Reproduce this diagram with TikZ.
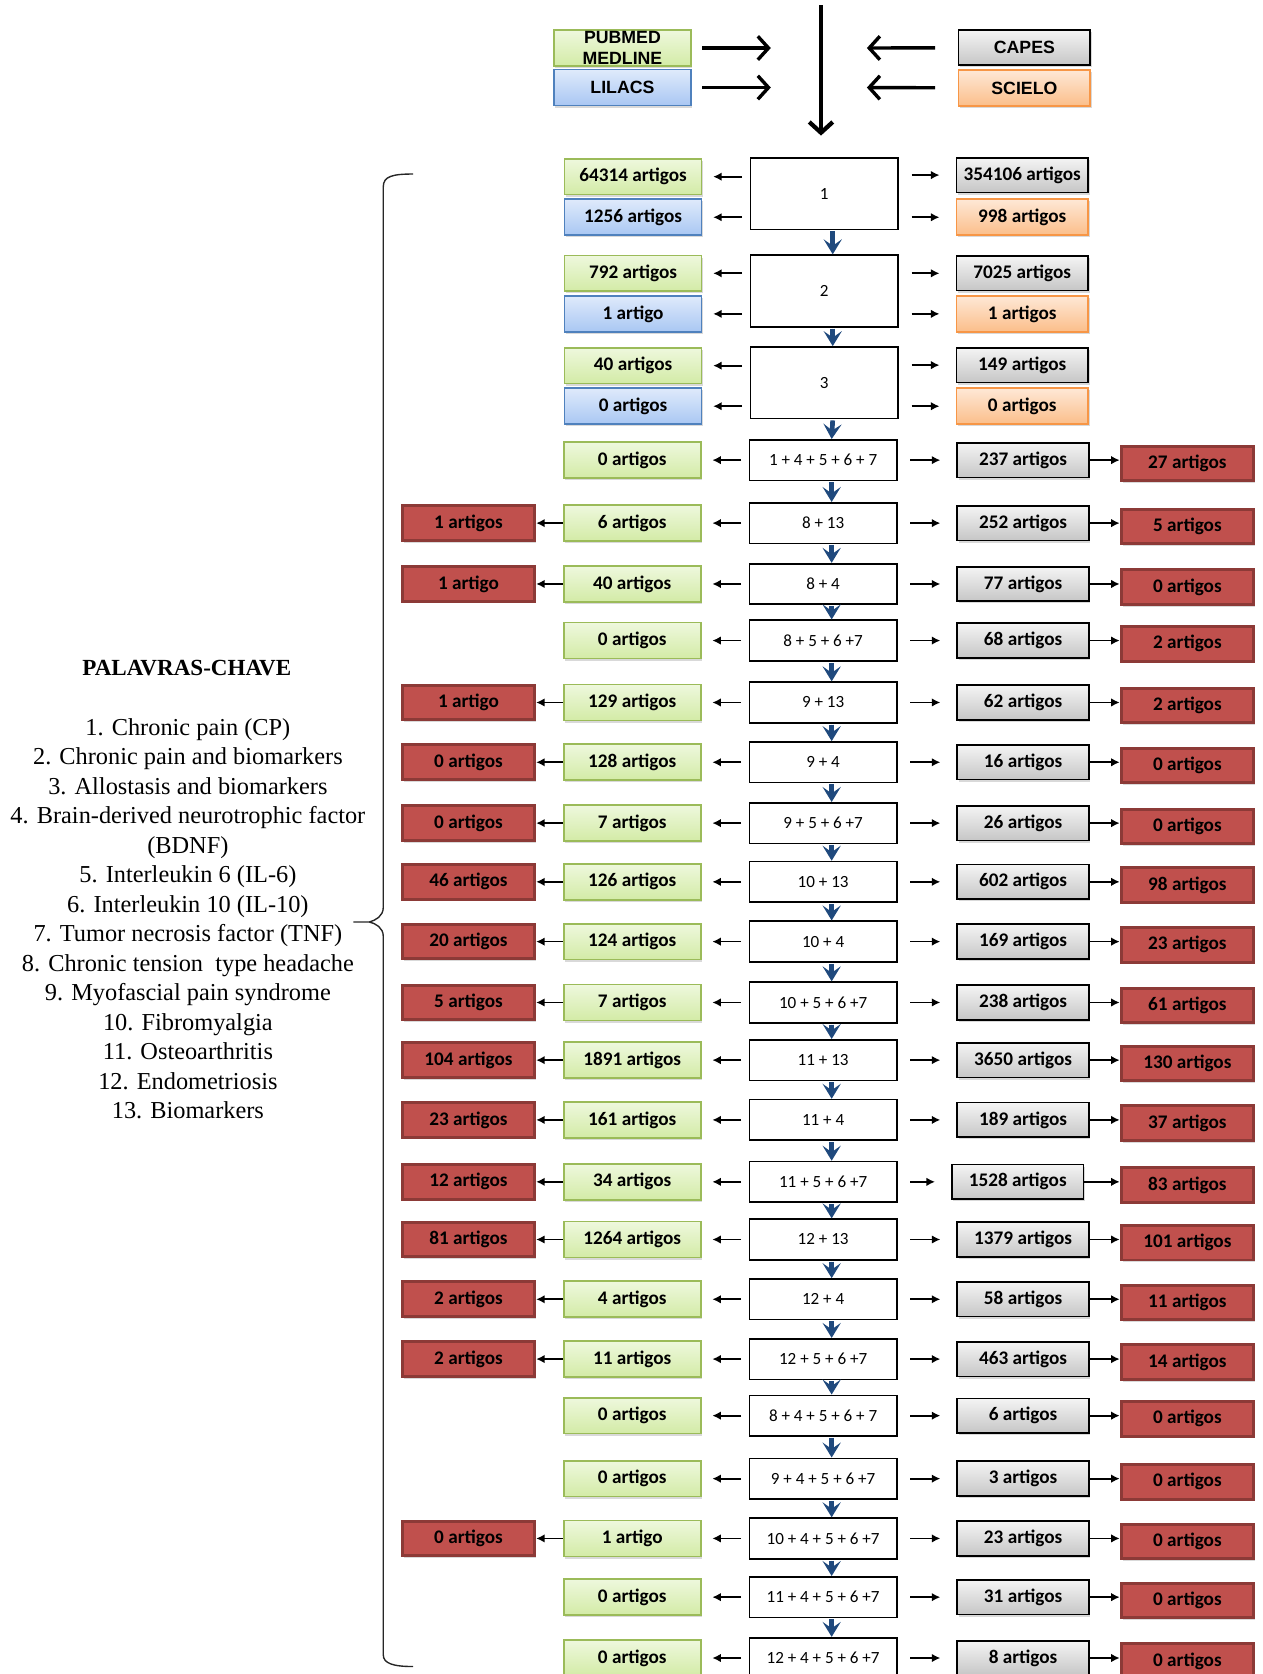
\documentclass[tikz,border=0pt]{standalone}
\usepackage{fontspec}
\setmainfont{Liberation Serif}
\newfontfamily\carl{Carlito}
\newfontfamily\arsans{Liberation Sans}
\usepackage{tikz}
\usetikzlibrary{positioning, arrows.meta, shadows}
\definecolor{cGt}{RGB}{238,248,221}
\definecolor{cGb}{RGB}{211,235,166}
\definecolor{cGd}{RGB}{155,187,89}
\definecolor{cBt}{RGB}{223,234,251}
\definecolor{cBb}{RGB}{169,199,243}
\definecolor{cBd}{RGB}{79,129,189}
\definecolor{cKt}{RGB}{244,244,244}
\definecolor{cKb}{RGB}{198,198,198}
\definecolor{cOt}{RGB}{254,232,214}
\definecolor{cOb}{RGB}{251,190,138}
\definecolor{cOd}{RGB}{247,150,70}
\definecolor{cR}{RGB}{192,80,77}
\definecolor{cRd}{RGB}{140,58,55}
\definecolor{cV}{RGB}{31,73,125}

\begin{document}
\begin{tikzpicture}[x=0.5pt, y=-0.5pt,
    boxx/.style={rectangle, inner sep=0pt, line width=0.8pt, font=\carl\bfseries\fontsize{9}{10}\selectfont,
      drop shadow={opacity=0.3, shadow xshift=0.7pt, shadow yshift=-1pt}},
    pm/.style={boxx, top color=cGt, bottom color=cGb, draw=cGd, minimum width=64.2pt, minimum height=16.8pt},
    li/.style={boxx, top color=cBt, bottom color=cBb, draw=cBd, minimum width=64.2pt, minimum height=16.8pt},
    cp/.style={boxx, top color=cKt, bottom color=cKb, draw=black, minimum width=61.7pt, minimum height=16.2pt},
    sc/.style={boxx, top color=cOt, bottom color=cOb, draw=cOd, minimum width=61.7pt, minimum height=16.8pt},
    rej/.style={boxx, fill=cR, draw=cRd, line width=1.4pt, minimum width=62pt, minimum height=16.2pt},
    dbx/.style={font=\arsans\bfseries\fontsize{8.3}{9.5}\selectfont, align=center},
    qry/.style={rectangle, draw, fill=white, line width=0.8pt, minimum width=69pt, minimum height=19pt,
      inner sep=0pt, font=\carl\fontsize{8}{9}\selectfont},
    qryT/.style={qry, minimum height=33.5pt},
    tol/.style={-{Latex[length=4pt,width=4pt]}, line width=0.8pt, shorten <=3.5pt, shorten >=5pt},
    tor/.style={-{Latex[length=4pt,width=4pt]}, line width=0.8pt, shorten <=6pt, shorten >=7.5pt},
    tot/.style={-{Latex[length=4pt,width=4pt]}, line width=0.8pt},
    bigarr/.style={-{Straight Barb[length=5pt,width=11pt]}, line width=1.6pt},
    chev/.style={-{Stealth[length=7pt,width=8.5pt,inset=3pt]}, draw=cV, fill=cV, line width=2.2pt, shorten <=0.5pt}]
    \useasboundingbox (0,0) rectangle (1183,1568);

    % bases de dados
    \node[pm, dbx] (pub) at (583,45) {PUBMED\\MEDLINE};
    \node[li, dbx] (lil) at (583,82) {LILACS};
    \node[cp, dbx] (cap) at (959.5,44.5) {CAPES};
    \node[sc, dbx] (sci) at (959.5,82.5) {SCIELO};
    \coordinate (pin) at (722,45);
    \coordinate (lin) at (722,82);
    \coordinate (cin) at (812,45);
    \coordinate (sin) at (812,82);
    \coordinate (src) at (769,5);
    \coordinate (dst) at (769,127);
    \draw[bigarr, shorten <=5pt] (pub) -- (pin);
    \draw[bigarr, shorten <=5pt] (lil) -- (lin);
    \draw[bigarr, shorten <=10.5pt] (cap) -- (cin);
    \draw[bigarr, shorten <=10.5pt] (sci) -- (sin);
    \draw[bigarr, line width=2pt] (src) -- (dst);

    % palavras-chave
    \node[font=\bfseries\fontsize{10.8}{13}\selectfont] (kwt) at (175,626) {PALAVRAS-CHAVE};
    \node[align=center, inner sep=0pt, font=\fontsize{11.4}{13.8}\selectfont] (kw) at (176,860.5)
      {1. Chronic pain (CP)\\ 2. Chronic pain and biomarkers\\ 3. Allostasis and biomarkers\\
       4. Brain-derived neurotrophic factor\\ (BDNF)\\ 5. Interleukin 6 (IL-6)\\
       6. Interleukin 10 (IL-10)\\ 7. Tumor necrosis factor (TNF)\\ 8. Chronic tension~ type headache\\
       9. Myofascial pain syndrome\\ 10. Fibromyalgia\\ 11. Osteoarthritis\\ 12. Endometriosis\\ 13. Biomarkers};
    \coordinate (brt) at (387,163);
    \coordinate (brtip) at (346,863.6);
    \coordinate (brb) at (387,1561);
    \draw[line width=0.65pt, black!85] (brt) .. controls (368,163) and (359,165) .. (359,175) -- (359,850)
      .. controls (359,858) and (352,862) .. (brtip) -- (331,863.6);
    \draw[line width=0.65pt, black!85] (brtip) .. controls (352,865) and (359,869) .. (359,877) -- (359,1550)
      .. controls (359,1558) and (368,1561) .. (brb);

    % buscas 1-3
    \node[qryT] (c1) at (772,181.5) {1};
    \node[pm] (g1) at (593,165.5) {64314 artigos};
    \node[li] (b1) at (593,203.5) {1256 artigos};
    \node[cp] (k1) at (957.5,164) {354106 artigos};
    \node[sc] (s1) at (957.5,203.5) {998 artigos};
    \node[qryT] (c2) at (772,272.5) {2};
    \node[pm] (g2) at (593,256) {792 artigos};
    \node[li] (b2) at (593,294) {1 artigo};
    \node[cp] (k2) at (957.5,256) {7025 artigos};
    \node[sc] (s2) at (957.5,294) {1 artigos};
    \node[qryT] (c3) at (772,358.5) {3};
    \node[pm] (g3) at (593,342.5) {40 artigos};
    \node[li] (b3) at (593,380.5) {0 artigos};
    \node[cp] (k3) at (957.5,342) {149 artigos};
    \node[sc] (s3) at (957.5,380.5) {0 artigos};
    \path (c1.west |- g1) edge[tol] (g1)  (c1.west |- b1) edge[tol] (b1)
          (c1.east |- k1) edge[tor] (k1)  (c1.east |- s1) edge[tor] (s1)
          (c2.west |- g2) edge[tol] (g2)  (c2.west |- b2) edge[tol] (b2)
          (c2.east |- k2) edge[tor] (k2)  (c2.east |- s2) edge[tor] (s2)
          (c3.west |- g3) edge[tol] (g3)  (c3.west |- b3) edge[tol] (b3)
          (c3.east |- k3) edge[tor] (k3)  (c3.east |- s3) edge[tor] (s3);

    % combinacoes
    \node[qry] (c4) at (771,431) {1 + 4 + 5 + 6 + 7};
    \node[pm, left=22pt of c4] (g4) {0 artigos};
    \node[cp, right=27.5pt of c4] (k4) {237 artigos};
    \node[rej, right=14pt of k4, yshift=-1.5pt] (o4) {27 artigos};

    \node[qry] (c5) at (771,490) {8 + 13};
    \node[pm, left=22pt of c5] (g5) {6 artigos};
    \node[rej, left=12.5pt of g5] (r5) {1 artigos};
    \node[cp, right=27.5pt of c5] (k5) {252 artigos};
    \node[rej, right=14pt of k5, yshift=-1.5pt] (o5) {5 artigos};

    \node[qry] (c6) at (771,547) {8 + 4};
    \node[pm, left=22pt of c6] (g6) {40 artigos};
    \node[rej, left=12.5pt of g6] (r6) {1 artigo};
    \node[cp, right=27.5pt of c6] (k6) {77 artigos};
    \node[rej, right=14pt of k6, yshift=-1.5pt] (o6) {0 artigos};

    \node[qry] (c7) at (771,600) {8 + 5 + 6 +7};
    \node[pm, left=22pt of c7] (g7) {0 artigos};
    \node[cp, right=27.5pt of c7] (k7) {68 artigos};
    \node[rej, right=14pt of k7, yshift=-1.5pt] (o7) {2 artigos};

    \node[qry] (c8) at (771,658) {9 + 13};
    \node[pm, left=22pt of c8] (g8) {129 artigos};
    \node[rej, left=12.5pt of g8] (r8) {1 artigo};
    \node[cp, right=27.5pt of c8] (k8) {62 artigos};
    \node[rej, right=14pt of k8, yshift=-1.5pt] (o8) {2 artigos};

    \node[qry] (c9) at (771,714) {9 + 4};
    \node[pm, left=22pt of c9] (g9) {128 artigos};
    \node[rej, left=12.5pt of g9] (r9) {0 artigos};
    \node[cp, right=27.5pt of c9] (k9) {16 artigos};
    \node[rej, right=14pt of k9, yshift=-1.5pt] (o9) {0 artigos};

    \node[qry] (c10) at (771,771) {9 + 5 + 6 +7};
    \node[pm, left=22pt of c10] (g10) {7 artigos};
    \node[rej, left=12.5pt of g10] (r10) {0 artigos};
    \node[cp, right=27.5pt of c10] (k10) {26 artigos};
    \node[rej, right=14pt of k10, yshift=-1.5pt] (o10) {0 artigos};

    \node[qry] (c11) at (771,826) {10 + 13};
    \node[pm, left=22pt of c11] (g11) {126 artigos};
    \node[rej, left=12.5pt of g11] (r11) {46 artigos};
    \node[cp, right=27.5pt of c11] (k11) {602 artigos};
    \node[rej, right=14pt of k11, yshift=-1.5pt] (o11) {98 artigos};

    \node[qry] (c12) at (771,882) {10 + 4};
    \node[pm, left=22pt of c12] (g12) {124 artigos};
    \node[rej, left=12.5pt of g12] (r12) {20 artigos};
    \node[cp, right=27.5pt of c12] (k12) {169 artigos};
    \node[rej, right=14pt of k12, yshift=-1.5pt] (o12) {23 artigos};

    \node[qry] (c13) at (771,939) {10 + 5 + 6 +7};
    \node[pm, left=22pt of c13] (g13) {7 artigos};
    \node[rej, left=12.5pt of g13] (r13) {5 artigos};
    \node[cp, right=27.5pt of c13] (k13) {238 artigos};
    \node[rej, right=14pt of k13, yshift=-1.5pt] (o13) {61 artigos};

    \node[qry] (c14) at (771,993) {11 + 13};
    \node[pm, left=22pt of c14] (g14) {1891 artigos};
    \node[rej, left=12.5pt of g14] (r14) {104 artigos};
    \node[cp, right=27.5pt of c14] (k14) {3650 artigos};
    \node[rej, right=14pt of k14, yshift=-1.5pt] (o14) {130 artigos};

    \node[qry] (c15) at (771,1049) {11 + 4};
    \node[pm, left=22pt of c15] (g15) {161 artigos};
    \node[rej, left=12.5pt of g15] (r15) {23 artigos};
    \node[cp, right=27.5pt of c15] (k15) {189 artigos};
    \node[rej, right=14pt of k15, yshift=-1.5pt] (o15) {37 artigos};

    \node[qry] (c16) at (771,1107) {11 + 5 + 6 +7};
    \node[pm, left=22pt of c16] (g16) {34 artigos};
    \node[rej, left=12.5pt of g16] (r16) {12 artigos};
    \node[cp, right=25pt of c16] (k16) {1528 artigos};
    \node[rej, right=16.5pt of k16, yshift=-1.5pt] (o16) {83 artigos};

    \node[qry] (c17) at (771,1161) {12 + 13};
    \node[pm, left=22pt of c17] (g17) {1264 artigos};
    \node[rej, left=12.5pt of g17] (r17) {81 artigos};
    \node[cp, right=27.5pt of c17] (k17) {1379 artigos};
    \node[rej, right=14pt of k17, yshift=-1.5pt] (o17) {101 artigos};

    \node[qry] (c18) at (771,1217) {12 + 4};
    \node[pm, left=22pt of c18] (g18) {4 artigos};
    \node[rej, left=12.5pt of g18] (r18) {2 artigos};
    \node[cp, right=27.5pt of c18] (k18) {58 artigos};
    \node[rej, right=14pt of k18, yshift=-1.5pt] (o18) {11 artigos};

    \node[qry] (c19) at (771,1273) {12 + 5 + 6 +7};
    \node[pm, left=22pt of c19] (g19) {11 artigos};
    \node[rej, left=12.5pt of g19] (r19) {2 artigos};
    \node[cp, right=27.5pt of c19] (k19) {463 artigos};
    \node[rej, right=14pt of k19, yshift=-1.5pt] (o19) {14 artigos};

    \node[qry] (c20) at (771,1326) {8 + 4 + 5 + 6 + 7};
    \node[pm, left=22pt of c20] (g20) {0 artigos};
    \node[cp, right=27.5pt of c20] (k20) {6 artigos};
    \node[rej, right=14pt of k20, yshift=-1.5pt] (o20) {0 artigos};

    \node[qry] (c21) at (771,1385) {9 + 4 + 5 + 6 +7};
    \node[pm, left=22pt of c21] (g21) {0 artigos};
    \node[cp, right=27.5pt of c21] (k21) {3 artigos};
    \node[rej, right=14pt of k21, yshift=-1.5pt] (o21) {0 artigos};

    \node[qry] (c22) at (771,1441) {10 + 4 + 5 + 6 +7};
    \node[pm, left=22pt of c22] (g22) {1 artigo};
    \node[rej, left=12.5pt of g22] (r22) {0 artigos};
    \node[cp, right=27.5pt of c22] (k22) {23 artigos};
    \node[rej, right=14pt of k22, yshift=-1.5pt] (o22) {0 artigos};

    \node[qry] (c23) at (771,1496) {11 + 4 + 5 + 6 +7};
    \node[pm, left=22pt of c23] (g23) {0 artigos};
    \node[cp, right=27.5pt of c23] (k23) {31 artigos};
    \node[rej, right=14pt of k23, yshift=-1.5pt] (o23) {0 artigos};

    \node[qry] (c24) at (771,1553) {12 + 4 + 5 + 6 +7};
    \node[pm, left=22pt of c24] (g24) {0 artigos};
    \node[cp, right=27.5pt of c24] (k24) {8 artigos};
    \node[rej, right=14pt of k24, yshift=-1.5pt] (o24) {0 artigos};

    \path (c4) edge[tol] (g4) edge[tor] (k4)  (k4.east) edge[tot] (k4.east -| o4.west)
          (c5) edge[tol] (g5) edge[tor] (k5)  (k5.east) edge[tot] (k5.east -| o5.west)  (g5) edge[tot] (r5)
          (c6) edge[tol] (g6) edge[tor] (k6)  (k6.east) edge[tot] (k6.east -| o6.west)  (g6) edge[tot] (r6)
          (c7) edge[tol] (g7) edge[tor] (k7)  (k7.east) edge[tot] (k7.east -| o7.west)
          (c8) edge[tol] (g8) edge[tor] (k8)  (k8.east) edge[tot] (k8.east -| o8.west)  (g8) edge[tot] (r8)
          (c9) edge[tol] (g9) edge[tor] (k9)  (k9.east) edge[tot] (k9.east -| o9.west)  (g9) edge[tot] (r9)
          (c10) edge[tol] (g10) edge[tor] (k10)  (k10.east) edge[tot] (k10.east -| o10.west)  (g10) edge[tot] (r10)
          (c11) edge[tol] (g11) edge[tor] (k11)  (k11.east) edge[tot] (k11.east -| o11.west)  (g11) edge[tot] (r11)
          (c12) edge[tol] (g12) edge[tor] (k12)  (k12.east) edge[tot] (k12.east -| o12.west)  (g12) edge[tot] (r12)
          (c13) edge[tol] (g13) edge[tor] (k13)  (k13.east) edge[tot] (k13.east -| o13.west)  (g13) edge[tot] (r13)
          (c14) edge[tol] (g14) edge[tor] (k14)  (k14.east) edge[tot] (k14.east -| o14.west)  (g14) edge[tot] (r14)
          (c15) edge[tol] (g15) edge[tor] (k15)  (k15.east) edge[tot] (k15.east -| o15.west)  (g15) edge[tot] (r15)
          (c16) edge[tol] (g16) edge[tor] (k16)  (k16.east) edge[tot] (k16.east -| o16.west)  (g16) edge[tot] (r16)
          (c17) edge[tol] (g17) edge[tor] (k17)  (k17.east) edge[tot] (k17.east -| o17.west)  (g17) edge[tot] (r17)
          (c18) edge[tol] (g18) edge[tor] (k18)  (k18.east) edge[tot] (k18.east -| o18.west)  (g18) edge[tot] (r18)
          (c19) edge[tol] (g19) edge[tor] (k19)  (k19.east) edge[tot] (k19.east -| o19.west)  (g19) edge[tot] (r19)
          (c20) edge[tol] (g20) edge[tor] (k20)  (k20.east) edge[tot] (k20.east -| o20.west)
          (c21) edge[tol] (g21) edge[tor] (k21)  (k21.east) edge[tot] (k21.east -| o21.west)
          (c22) edge[tol] (g22) edge[tor] (k22)  (k22.east) edge[tot] (k22.east -| o22.west)  (g22) edge[tot] (r22)
          (c23) edge[tol] (g23) edge[tor] (k23)  (k23.east) edge[tot] (k23.east -| o23.west)
          (c24) edge[tol] (g24) edge[tor] (k24)  (k24.east) edge[tot] (k24.east -| o24.west);

    % setas azuis entre as buscas
    \path[every edge/.append style={chev}]
      ([xshift=4pt]c1.south) edge ([xshift=4pt]c2.north)
      ([xshift=4pt]c2.south) edge ([xshift=4pt]c3.north)
      ([xshift=4pt]c3.south) edge ([xshift=4pt]c4.north)
      ([xshift=4pt]c4.south) edge ([xshift=4pt]c5.north)
      ([xshift=4pt]c5.south) edge ([xshift=4pt]c6.north)
      ([xshift=4pt]c6.south) edge ([xshift=4pt]c7.north)
      ([xshift=4pt]c7.south) edge ([xshift=4pt]c8.north)
      ([xshift=4pt]c8.south) edge ([xshift=4pt]c9.north)
      ([xshift=4pt]c9.south) edge ([xshift=4pt]c10.north)
      ([xshift=4pt]c10.south) edge ([xshift=4pt]c11.north)
      ([xshift=4pt]c11.south) edge ([xshift=4pt]c12.north)
      ([xshift=4pt]c12.south) edge ([xshift=4pt]c13.north)
      ([xshift=4pt]c13.south) edge ([xshift=4pt]c14.north)
      ([xshift=4pt]c14.south) edge ([xshift=4pt]c15.north)
      ([xshift=4pt]c15.south) edge ([xshift=4pt]c16.north)
      ([xshift=4pt]c16.south) edge ([xshift=4pt]c17.north)
      ([xshift=4pt]c17.south) edge ([xshift=4pt]c18.north)
      ([xshift=4pt]c18.south) edge ([xshift=4pt]c19.north)
      ([xshift=4pt]c19.south) edge ([xshift=4pt]c20.north)
      ([xshift=4pt]c20.south) edge ([xshift=4pt]c21.north)
      ([xshift=4pt]c21.south) edge ([xshift=4pt]c22.north)
      ([xshift=4pt]c22.south) edge ([xshift=4pt]c23.north)
      ([xshift=4pt]c23.south) edge ([xshift=4pt]c24.north);
\end{tikzpicture}
\end{document}
